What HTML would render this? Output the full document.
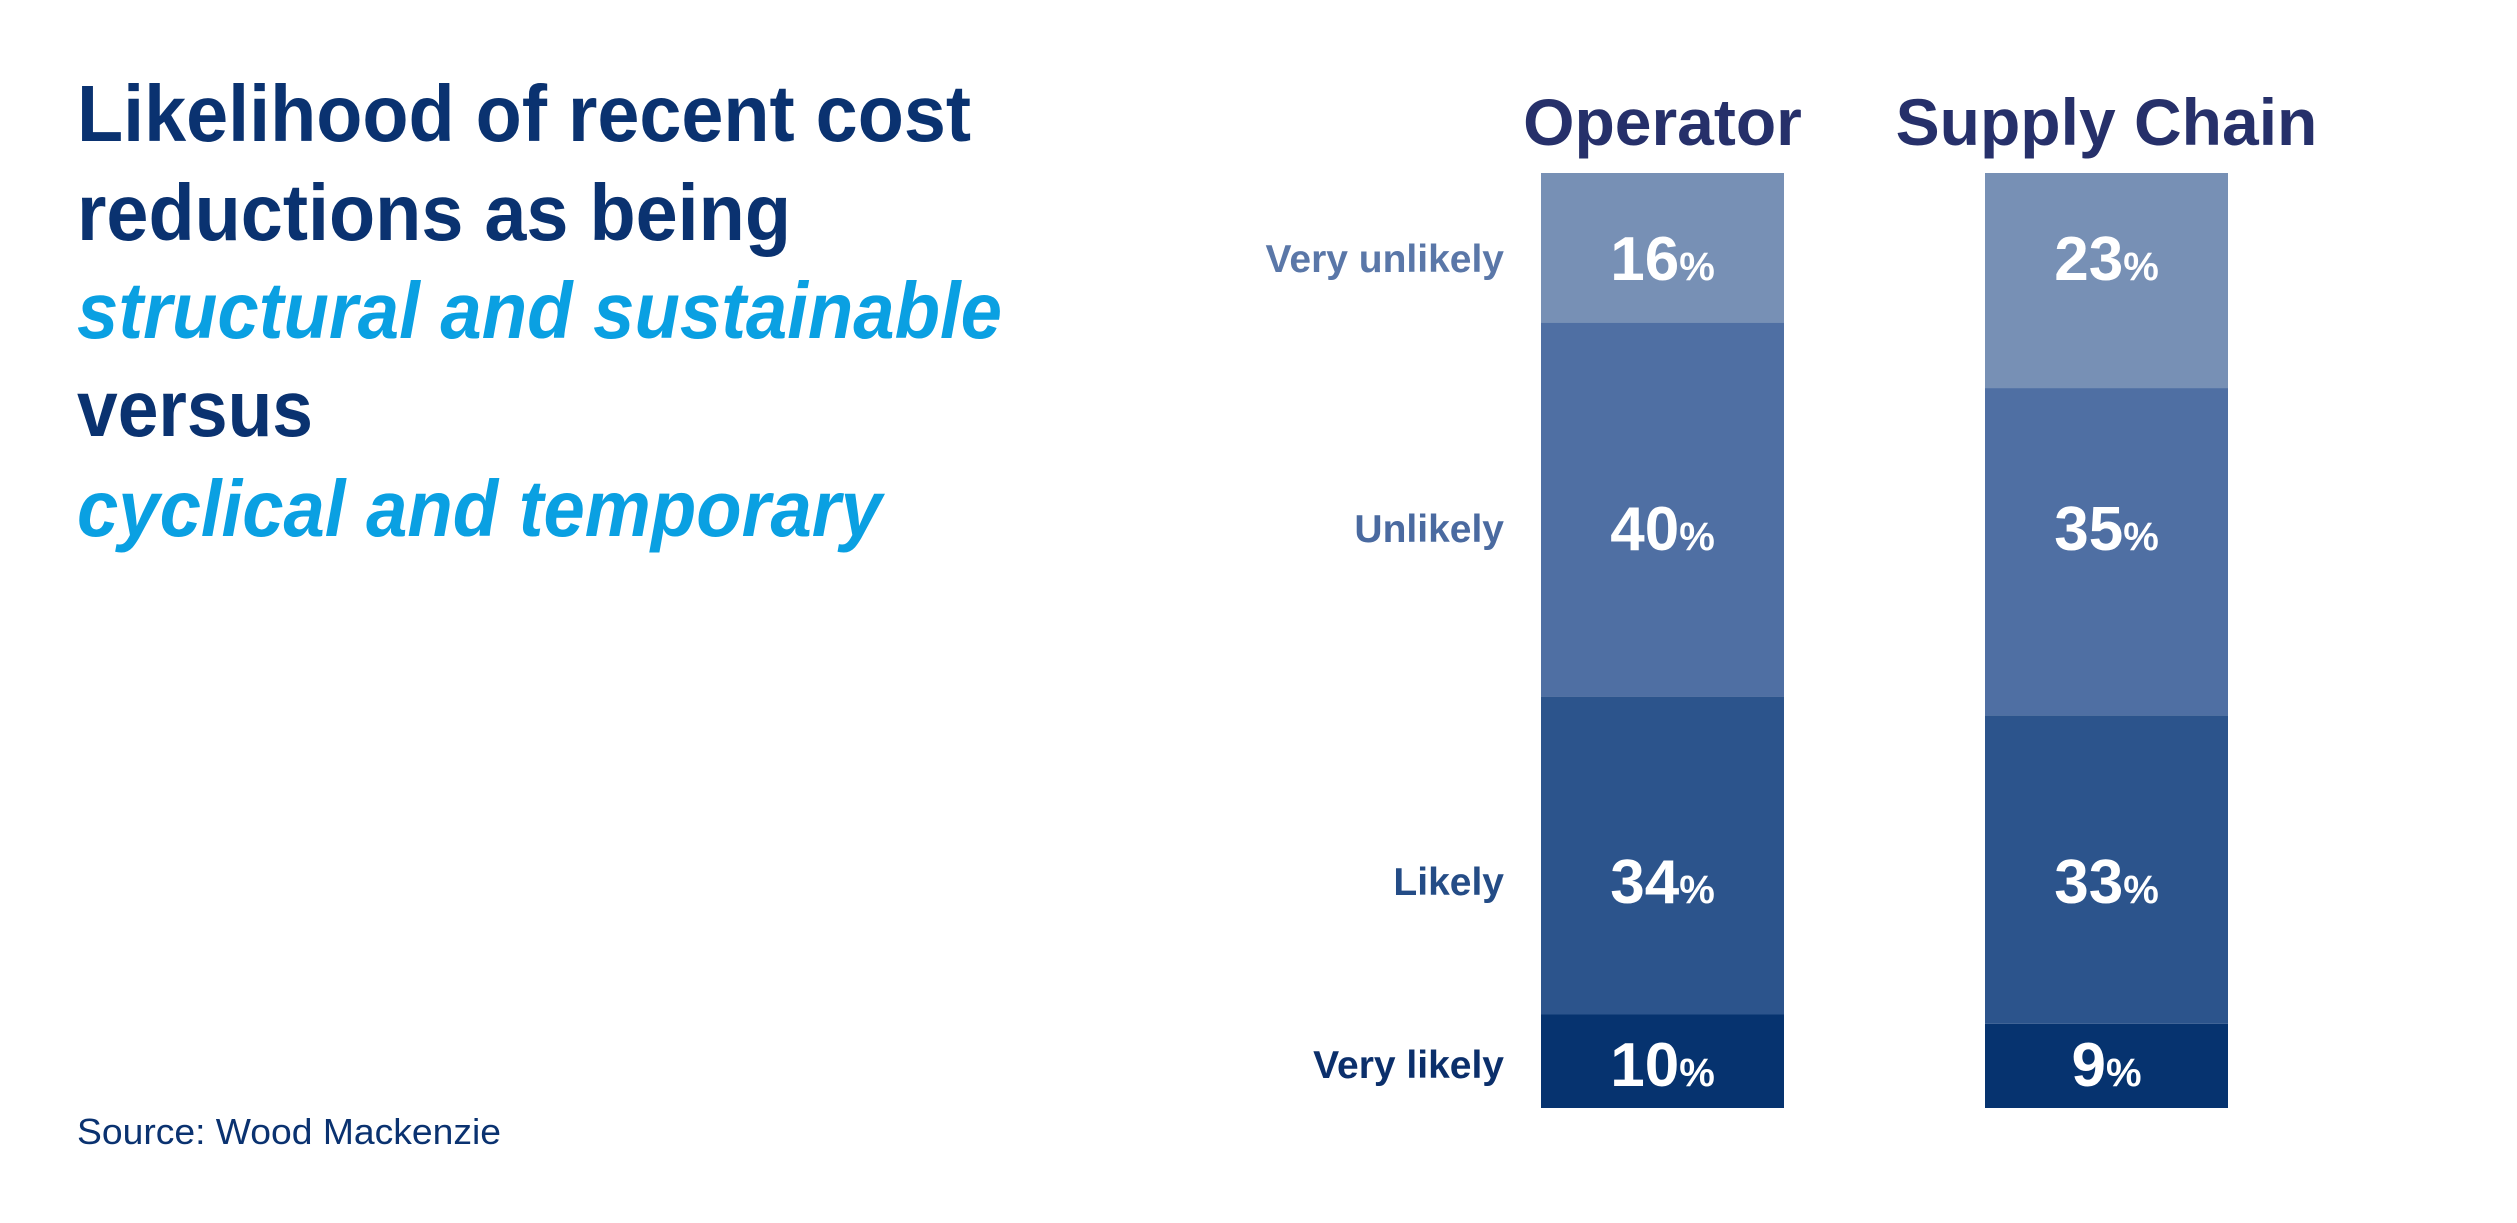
<!DOCTYPE html>
<html><head><meta charset="utf-8"><style>
html,body{margin:0;padding:0;background:#fff;}
svg{display:block;font-family:"Liberation Sans",sans-serif;}
</style></head><body>
<svg id="chart" width="2517" height="1223" viewBox="0 0 2517 1223" xmlns="http://www.w3.org/2000/svg">
<g font-weight="bold" font-size="80">
<text x="77" y="141" fill="#0a3270" textLength="894" lengthAdjust="spacingAndGlyphs">Likelihood of recent cost</text>
<text x="77" y="240" fill="#0a3270" textLength="714" lengthAdjust="spacingAndGlyphs">reductions as being</text>
<text x="77" y="338" fill="#0aa0e2" font-style="italic" textLength="925" lengthAdjust="spacingAndGlyphs">structural and sustainable</text>
<text x="77" y="436" fill="#0a3270" textLength="236" lengthAdjust="spacingAndGlyphs">versus</text>
<text x="77" y="536" fill="#0aa0e2" font-style="italic" textLength="805" lengthAdjust="spacingAndGlyphs">cyclical and temporary</text>
</g>
<text x="77" y="1144" font-size="36" fill="#0a3270" textLength="424" lengthAdjust="spacingAndGlyphs">Source: Wood Mackenzie</text>
<g id="bars"></g>
</svg>
<script>
const categories = ["Very likely", "Likely", "Unlikely", "Very unlikely"];
const groups = ["Operator", "Supply Chain"];
const operatorValues = [10, 34, 40, 16];
const supplyValues = [9, 33, 35, 23];

const NS = "http://www.w3.org/2000/svg";
const g = document.getElementById("bars");
const colors = ["#06336f", "#2c548c", "#4f6fa3", "#7790b5"];
const labelColors = ["#0b2f6b", "#244c86", "#4a6aa0", "#5a77a8"];
const rowCenters = [1064, 881, 528, 258];
const barX = [1541, 1985], barW = 243;
const yBottom = 1108, yTop = 173;
function y(v) { return yBottom - (v / 100) * (yBottom - yTop); }
function mk(tag, attrs, text) {
  const e = document.createElementNS(NS, tag);
  for (const k in attrs) e.setAttribute(k, attrs[k]);
  if (text !== undefined) e.textContent = text;
  return e;
}
const series = [operatorValues, supplyValues];
series.forEach((vals, gi) => {
  const h = mk("text", {x: barX[gi] + barW / 2, y: 145, "text-anchor": "middle", "font-size": 66, "font-weight": "bold", fill: "#26306a"}, groups[gi]);
  
  
  g.appendChild(h);
  let cum = 0;
  vals.forEach((v, i) => {
    const y0 = y(cum), y1 = y(cum + v);
    const r = mk("rect", {x: barX[gi], y: y1, width: barW, height: y0 - y1, fill: colors[i]});
    
    
    g.appendChild(r);
    const t = mk("text", {x: barX[gi] + barW / 2, y: rowCenters[i] + 22, "text-anchor": "middle", fill: "#fff", "font-weight": "bold", "font-size": 62});
    
    
    const n = mk("tspan", {}, String(v));
    const p = mk("tspan", {"font-size": 40}, "%");
    t.appendChild(n); t.appendChild(p);
    g.appendChild(t);
    cum += v;
  });
});
categories.forEach((c, i) => {
  const l = mk("text", {x: 1504, y: rowCenters[i] + 14, "text-anchor": "end", "font-size": 39, "font-weight": "bold", fill: labelColors[i]}, c);
  
  
  g.appendChild(l);
});
</script>
</body></html>
